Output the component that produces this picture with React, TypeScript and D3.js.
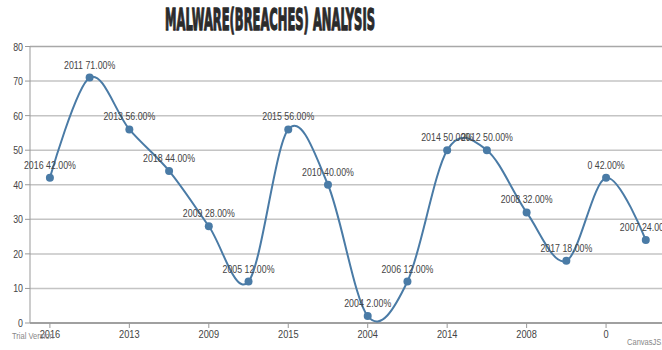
import React from "react";
import * as d3 from "d3";

const categories = ["2016", "2011", "2013", "2018", "2009", "2005", "2015", "2010", "2004", "2006", "2014", "2012", "2008", "2017", "0", "2007"];
const values = [42, 71, 56, 44, 28, 12, 56, 40, 2, 12, 50, 50, 32, 18, 42, 24];
const yTicks = [0, 10, 20, 30, 40, 50, 60, 70, 80];
const titleText = "MALWARE(BREACHES) ANALYSIS";

const W = 662;
const H = 350;
const margin = { left: 30, top: 46.5, bottom: 323 };

const labelFont = "'Liberation Sans', 'Noto Sans', sans-serif";

function Label(props: { x: number; y: number; text: string; anchor?: string; size?: number; fill?: string; sx?: number }) {
  const { x, y, text, anchor = "middle", size = 10.5, fill = "#444", sx = 0.84 } = props;
  return (
    <text
      transform={`translate(${x},${y}) scale(${sx},1)`}
      textAnchor={anchor}
      fontFamily={labelFont}
      fontSize={size}
      fill={fill}
    >
      {text}
    </text>
  );
}

export default function App() {
  const x = d3.scaleLinear().domain([0, 15]).range([49.9, 645.8]);
  const y = d3.scaleLinear().domain([0, 80]).range([margin.bottom, margin.top]);
  const line = d3
    .line<number>()
    .x((_, i) => x(i))
    .y((d) => y(d))
    .curve(d3.curveCatmullRom.alpha(0));
  return (
    <svg width={W} height={H} style={{ position: "absolute", left: 0, top: 0, background: "#fff" }}>
      <text
        x={270}
        y={30}
        textAnchor="middle"
        textLength={210}
        lengthAdjust="spacingAndGlyphs"
        fontFamily="'DejaVu Sans Condensed', 'Liberation Sans Narrow', sans-serif"
        fontWeight="bold"
        fontSize={30}
        fill="#2b2b2b"
        stroke="#2b2b2b"
        strokeWidth={1.3}
      >
        {titleText}
      </text>
      {yTicks.map((t) => (
        <g key={t}>
          <line
            x1={margin.left}
            x2={W}
            y1={y(t)}
            y2={y(t)}
            stroke={t === 0 ? "#a0a0a0" : t === 80 ? "#a8a8a8" : "#c4c4c4"}
            strokeWidth={t === 0 ? 2 : 1.5}
          />
          <line x1={margin.left - 5} x2={margin.left} y1={y(t)} y2={y(t)} stroke="#999" strokeWidth={1} />
          <Label x={margin.left - 7} y={y(t) + 4} text={String(t)} anchor="end" />
        </g>
      ))}
      <line x1={margin.left} x2={margin.left} y1={y(80)} y2={y(0)} stroke="#999" strokeWidth={1} />
      {categories.map((c, i) =>
        i % 2 === 0 ? (
          <g key={"xt" + i}>
            <line x1={x(i)} x2={x(i)} y1={y(0)} y2={y(0) + 5} stroke="#999" strokeWidth={1} />
            <Label x={x(i)} y={y(0) + 15} text={c} size={11} />
          </g>
        ) : null
      )}
      <path d={line(values) || ""} fill="none" stroke="#4A7BA6" strokeWidth={2} />
      {values.map((v, i) => (
        <circle key={"p" + i} cx={x(i)} cy={y(v)} r={4} fill="#4A7BA6" />
      ))}
      {values.map((v, i) => (
        <Label key={"l" + i} x={x(i)} y={y(v) - 9} text={categories[i] + " " + v.toFixed(2) + "%"} />
      ))}
      <Label x={12} y={339} text="Trial Version" anchor="start" size={9} fill="#888" />
      <Label x={627} y={345} text="CanvasJS.com" anchor="start" size={9} fill="#888" />
    </svg>
  );
}
